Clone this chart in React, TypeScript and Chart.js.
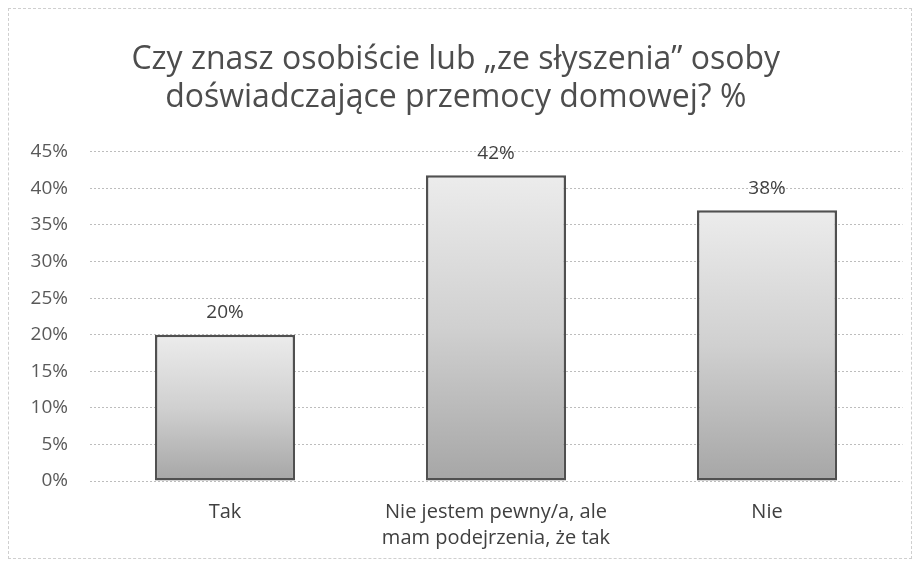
import React, { useEffect, useRef } from "react";
import { Chart, registerables } from "chart.js";

Chart.register(...registerables);

const titleLines = ["Czy znasz osobiście lub „ze słyszenia” osoby", "doświadczające przemocy domowej? %"];
const categories: (string | string[])[] = ["Tak", ["Nie jestem pewny/a, ale", "mam podejrzenia, że tak"], "Nie"];
const values = [20, 41.8, 37];
const valueLabels = ["20%", "42%", "38%"];
const yMax = 45;
const yStep = 5;

const FONT = "'Open Sans', Lato, sans-serif";

const labelPlugin = {
  id: "valueLabels",
  afterDatasetsDraw(chart: any) {
    const ctx = chart.ctx;
    const meta = chart.getDatasetMeta(0);
    ctx.save();
    ctx.font = `19px ${FONT}`;
    ctx.fillStyle = "#404040";
    ctx.textAlign = "center";
    ctx.textBaseline = "middle";
    meta.data.forEach((el: any, i: number) => {
      ctx.fillText(valueLabels[i], el.x, el.y - 22);
    });
    ctx.restore();
  },
};

export default function App() {
  const ref = useRef<HTMLCanvasElement | null>(null);
  useEffect(() => {
    if (!ref.current) return;
    const chart = new Chart(ref.current, {
      type: "bar",
      data: {
        labels: categories,
        datasets: [
          {
            data: values,
            backgroundColor: (c: any) => {
              const chart = c.chart;
              if (c.type !== "data" || !chart.chartArea) return "#cccccc";
              const ys = chart.scales.y;
              const top = ys.getPixelForValue(values[c.dataIndex]);
              const bot = ys.getPixelForValue(0);
              const g = chart.ctx.createLinearGradient(0, top, 0, bot);
              g.addColorStop(0, "#ececec");
              g.addColorStop(0.5, "#d0d0d0");
              g.addColorStop(1, "#a6a6a6");
              return g;
            },
            borderColor: "#505050",
            borderWidth: 2.5,
            borderSkipped: false,
            barPercentage: 1,
            categoryPercentage: 0.517,
          },
        ],
      },
      options: {
        responsive: false,
        animation: false,
        layout: { padding: { left: 0, right: 8.5, top: 0, bottom: 0 } },
        plugins: {
          legend: { display: false },
          tooltip: { enabled: false },
          title: {
            display: true,
            text: titleLines,
            color: "#4d4d4d",
            font: { family: FONT, size: 32, weight: "normal" },
            lineHeight: 1.156,
            padding: { top: 31.5, bottom: 34.5 },
          },
        },
        scales: {
          x: {
            afterFit: (s: any) => {
              s.height = 77;
            },
            grid: { display: false, drawTicks: false },
            border: { display: false },
            ticks: {
              color: "#404040",
              font: { family: FONT, size: 20, lineHeight: 1.3 },
              padding: 18,
              maxRotation: 0,
            },
          },
          y: {
            min: 0,
            max: yMax,
            afterFit: (s: any) => {
              s.width = 80.5;
            },
            ticks: {
              stepSize: yStep,
              color: "#595959",
              font: { family: FONT, size: 19 },
              padding: 21.5,
              callback: (v: any) => v + "%",
            },
            grid: { color: "#bdbdbd", drawTicks: false, lineWidth: 1 },
            border: { display: false, dash: [2, 2] },
          },
        },
      },
      plugins: [labelPlugin],
    } as any);
    return () => chart.destroy();
  }, []);
  return (
    <div style={{ width: 904, height: 551, border: "1px dashed #cfcfcf", boxSizing: "border-box" }}>
      <canvas ref={ref} width={902} height={549} />
    </div>
  );
}
